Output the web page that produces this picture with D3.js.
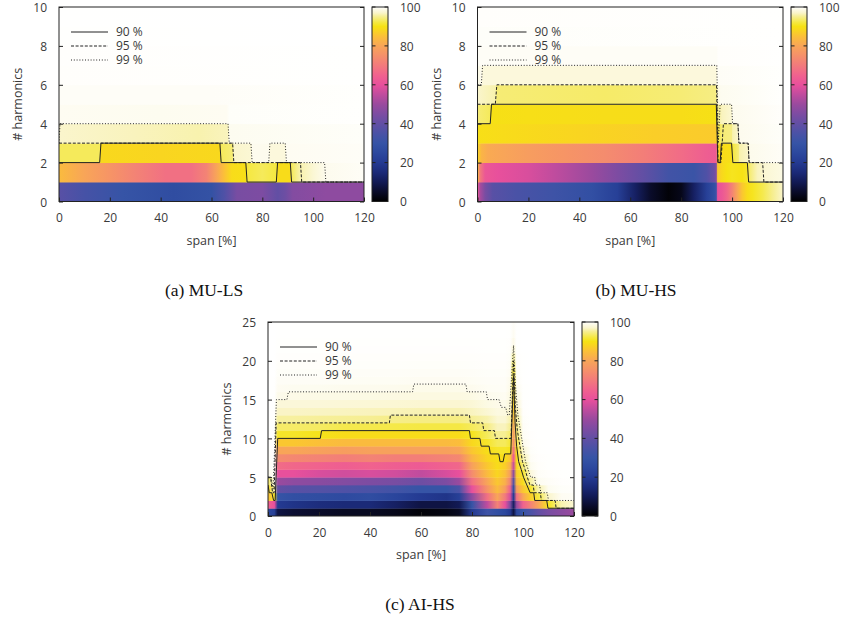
<!DOCTYPE html>
<html><head><meta charset="utf-8">
<script src="https://cdn.jsdelivr.net/npm/d3@7"></script>
<style>
body{margin:0;background:#fff;}
svg{display:block;font-family:"Open Sans",sans-serif;}
</style></head><body>
<svg id="chart" width="843" height="621"></svg>
<script>
// ---------- tick labels / texts ----------
const xTicks = [0, 20, 40, 60, 80, 100, 120];
const yTicksAB = [0, 2, 4, 6, 8, 10];
const yTicksC = [0, 5, 10, 15, 20, 25];
const cbTicks = [0, 20, 40, 60, 80, 100];
const legendLabels = ["90 %", "95 %", "99 %"];
const captions = ["(a) MU-LS", "(b) MU-HS", "(c) AI-HS"];
const xLabel = "span [%]";
const yLabel = "# harmonics";

// ---------- colour map (value -> colour) ----------
const colorValues = [0, 5, 10, 15, 20, 25, 30, 35, 40, 45, 50, 55, 60, 65, 70, 75, 80, 85, 88, 90, 92, 95, 97, 99, 100];
const colorHexes = ["#000000","#0a0c2a","#121a55","#1b2a78","#243a92","#2c489e","#3654a6","#4a52a6","#624fa4","#7d4ca2",
  "#9a4a9e","#c04c9e","#e8509c","#f0628e","#f27a7c","#f5906a","#f8a558","#fbc038","#f9d520","#f6e214",
  "#f5e840","#f6ee90","#faf5cc","#fdfbec","#ffffff"];

// ---------- panel (a) MU-LS : rows of [span, cumulative %] ----------
const heatA = [
  [[0,38],[10,34],[25,30],[45,27],[60,29],[65,36],[70,44],[80,45],[86,40],[89,42],[92,46],[105,48],[120,48]],
  [[0,84],[10,80],[20,76],[30,72],[42,68],[52,68],[58,72],[62,80],[65,85],[68,89],[73.5,89.5],[74,92],[80,93],[85.5,92],[86,89],[91,89],[91.5,93],[95,96],[100,97.5],[105,99.1],[120,99.5]],
  [[0,93],[16,93],[16.5,88.5],[40,88],[63.3,88.5],[63.8,93],[68.3,94],[68.8,97],[75.5,97.5],[76,99.1],[82.5,99.1],[83,98],[89,98],[89.5,99.3],[120,99.6]],
  [[0,97],[30,96.5],[55,96],[66.5,96.5],[67,99.2],[120,99.7]],
  [[0,99.3],[40,99.2],[66,99.3],[67,99.7],[120,99.9]],
  [[0,99.6],[60,99.6],[120,99.9]],
  [[0,99.8],[120,99.95]],
  [[0,99.85],[120,99.97]],
  [[0,99.9],[120,99.98]],
  [[0,99.95],[120,99.99]]
];
const c90A = [[0,2],[16,2],[16.5,3],[63.3,3],[63.8,2],[73.5,2],[74,1],[85.5,1],[86,2],[91,2],[91.5,1],[120,1]];
const c95A = [[0,3],[68.3,3],[68.8,2],[95,2],[95.5,1],[120,1]];
const c99A = [[0,3],[0.4,4],[66.5,4],[67,3],[75.5,3],[76,2],[82.5,2],[83,3],[89,3],[89.5,2],[104.5,2],[105,1],[120,1]];

// ---------- panel (b) MU-HS ----------
const heatB = [
  [[0,62],[1,52],[3,44],[6,38],[15,35],[30,32],[45,28],[55,22],[62,12],[68,5],[75,1],[80,3],[85,12],[90,22],[93,28],[93.8,32],[94.3,60],[96,62],[98,66],[100,72],[102,80],[104,86],[106,89],[108,90.5],[112,92.5],[116,95],[120,97]],
  [[0,85],[1,70],[3,62],[8,60],[20,58],[30,55],[45,50],[55,45],[65,40],[75,33],[85,31],[90,36],[93,42],[93.8,46],[94.3,86],[96,88.5],[98,90],[100,90.5],[104,90],[106,91],[107,94],[110,96.5],[113,97.5],[120,98.5]],
  [[0,88],[1.5,83],[4,81],[10,80],[20,78],[35,76],[50,74],[65,71],[80,67],[90,64],[93.8,63],[94.3,87],[96,89],[99.8,89.5],[100.3,92],[102.5,94],[103,96],[106.5,97],[107,99],[120,99.6]],
  [[0,89.5],[10,89],[40,88],[70,87],[93.8,86.5],[94.3,92],[96,94],[99.8,94.5],[100.2,96],[102.3,97],[102.7,99.1],[120,99.7]],
  [[0,94],[5,93],[5.5,89.7],[20,89.5],[50,89.2],[80,89.3],[93.8,89.7],[94.3,95],[96,96.5],[99.8,97.5],[100.2,99.1],[120,99.8]],
  [[0,97],[7,96],[7.6,94],[50,93.5],[80,94],[93.8,94.5],[94.3,98],[95.5,99.2],[120,99.9]],
  [[0,98.5],[1.5,99.1],[2,98],[50,98],[93.8,98],[94.3,99.5],[120,99.9]],
  [[0,99.5],[94,99.5],[94.5,99.8],[120,99.95]],
  [[0,99.7],[120,99.96]],
  [[0,99.8],[120,99.97]]
];
const c90B = [[0,4],[5,4],[5.5,5],[93.8,5],[94.4,2],[95.3,2],[95.8,3],[99.8,3],[100.3,2],[106,2],[106.5,1],[120,1]];
const c95B = [[0,5],[7,5],[7.6,6],[93.9,6],[94.5,2],[95.6,2],[96.6,4],[102.3,4],[102.7,3],[106.3,3],[106.7,2],[112,2],[112.5,1],[120,1]];
const c99B = [[0,6],[1.5,6],[2,7],[94,7],[94.6,3],[95.3,5],[99.8,5],[100.2,4],[102.3,4],[102.7,3],[106.3,3],[106.7,2],[120,2]];

// ---------- panel (c) AI-HS : columns of cumulative % per harmonic row ----------
const spanC = [0, 2.5, 3.8, 10, 20, 30, 40, 50, 60, 70, 75, 80, 86, 90, 93, 95, 96.3, 97.5, 100, 103, 106, 110, 115, 120];
const heatC = [
  [25,65,85,89,93,99.1,99.5,99.7,99.8,99.85,99.9,99.9,99.92,99.93,99.94,99.95,99.96,99.97,99.97,99.98,99.98,99.99,99.99,100,100],
  [22,60,91,96,99.2,99.5,99.7,99.8,99.85,99.9,99.9,99.92,99.93,99.94,99.95,99.96,99.97,99.97,99.98,99.98,99.99,99.99,100,100,100],
  [8,20,30,40,50,60,67,74,80,86,91,93.5,95.5,96.8,97.8,99.0,99.3,99.5,99.65,99.75,99.82,99.88,99.92,99.95,99.97],
  [6,18,28,38,48,60,66,73,80,86,91,93.5,95.5,96.8,97.8,98.7,99.2,99.5,99.65,99.75,99.82,99.88,99.92,99.95,99.97],
  [5,16,27,37,47,58,65,72,79,85,90.3,93.3,95.3,96.7,97.8,98.6,99.2,99.5,99.65,99.75,99.82,99.88,99.92,99.95,99.97],
  [4,15,26,36,46,57,64,71,78,84,89,92.5,95.2,96.6,97.7,98.6,99.1,99.45,99.6,99.72,99.8,99.87,99.92,99.95,99.97],
  [4,15,27,35,45,58,65,72,79,84,89,92.5,95.1,96.5,97.6,98.5,99.1,99.4,99.6,99.72,99.8,99.87,99.92,99.95,99.97],
  [3,12,24,33,44,57,64,71,79,84,89,92.3,94.7,96.4,97.5,98.4,99.05,99.4,99.6,99.72,99.8,99.87,99.92,99.95,99.97],
  [1,8,20,30,42,55,63,71,79,84,89,92.2,94.5,96.2,97.4,98.3,98.9,99.3,99.55,99.7,99.8,99.87,99.92,99.95,99.97],
  [2,8,18,30,45,58,65,72,79,84,89,92.2,94.5,96.2,97.4,98.3,98.9,99.3,99.55,99.7,99.8,99.87,99.92,99.95,99.97],
  [4,10,22,35,50,60,66,73,80,84.5,89,92.2,94.5,96.2,97.4,98.3,98.9,99.3,99.55,99.7,99.8,99.87,99.92,99.95,99.97],
  [20,30,48,60,68,74,79,83,86,88.5,90.5,93,95.2,96.6,97.6,98.5,99.1,99.4,99.6,99.72,99.8,99.87,99.92,99.95,99.97],
  [32,55,68,76,80,84,86,88,89.3,91,93,94.5,96,97.5,98.5,99.1,99.4,99.6,99.7,99.78,99.84,99.88,99.92,99.95,99.97],
  [28,72,80,84,86,88,89,89.6,91,93,95.2,96.5,97.5,98.3,98.8,99.2,99.45,99.6,99.7,99.78,99.84,99.88,99.92,99.95,99.97],
  [25,60,70,78,82,85,87,89,91,93,95.1,96.5,97.5,98.2,98.9,99.3,99.5,99.6,99.7,99.78,99.84,99.88,99.92,99.95,99.97],
  [20,45,58,65,72,78,82,86,90.2,91.5,93.5,95,96,97,97.8,98.3,98.7,99,99.3,99.5,99.65,99.75,99.85,99.9,99.95],
  [8,12,20,28,38,48,56,62,68,74,78,81,84,86,87.5,88.5,89.3,89.7,91,93,95.5,97.5,98.8,99.3,99.6],
  [25,50,68,78,84,87,88.5,89.5,90.5,92,93.5,94.5,95.5,96.5,97.5,98.5,99.1,99.5,99.7,99.8,99.85,99.9,99.93,99.95,99.97],
  [30,65,80,86,89,91,94,96,97.5,99,99.4,99.6,99.7,99.8,99.85,99.9,99.92,99.94,99.95,99.96,99.97,99.98,99.98,99.99,99.99],
  [35,72,87,91,95.5,98,99.2,99.5,99.7,99.8,99.85,99.9,99.92,99.94,99.95,99.96,99.97,99.98,99.98,99.99,99.99,99.99,100,100,100],
  [40,80,92,96,99.2,99.6,99.75,99.85,99.9,99.92,99.94,99.95,99.96,99.97,99.98,99.98,99.99,99.99,99.99,100,100,100,100,100,100],
  [44,90.5,97,99.2,99.6,99.8,99.88,99.92,99.94,99.95,99.96,99.97,99.98,99.98,99.99,99.99,99.99,100,100,100,100,100,100,100,100],
  [47,96,99.3,99.7,99.85,99.9,99.93,99.95,99.96,99.97,99.98,99.98,99.99,99.99,99.99,100,100,100,100,100,100,100,100,100,100],
  [50,97.5,99.5,99.8,99.9,99.93,99.95,99.96,99.97,99.98,99.98,99.99,99.99,99.99,100,100,100,100,100,100,100,100,100,100,100]
];
const c90C = [[0,4],[0.5,3],[1.5,3],[2.2,2],[2.8,2],[3.8,10],[20.5,10],[21,11],[79,11],[79.4,10],[83.1,10],[83.6,9],[86.7,9],[87.2,8],[90.5,8],[91,7],[92.2,7],[92.8,8],[95.2,8],[96.3,18],[96.9,12],[97.5,9],[98.3,7],[99.3,6],[100.2,5],[101.5,4],[102.8,3],[104.2,3],[104.6,2],[109.3,2],[109.8,1],[120,1]];
const c95C = [[0,5],[1,5],[1.8,3],[2.4,3],[3.2,12],[47.6,12],[48,13],[79,13],[79.4,12],[84.2,12],[84.6,11],[88.8,11],[89.2,10],[95.3,10],[96.3,20],[97,14],[97.8,11],[98.8,9],[99.8,7],[100.8,6],[101.7,5],[102.7,4],[104,4],[104.4,3],[106.8,3],[107.2,2],[112.6,2],[113,1],[120,1]];
const c99C = [[0,5],[1.2,5],[2,3.5],[3.3,15],[7.4,15],[8,16],[56.7,16],[57.2,17],[77.6,17],[78.1,16],[85.6,16],[86.1,15],[90.6,15],[91.5,14],[93.2,14],[94,13],[94.6,13],[96.3,22],[97,17],[98,13],[99,11],[100,9],[101,7],[102,6],[103,5],[104.6,5],[105,4],[106.5,4],[107,3],[109.5,3],[110,2],[120,2]];

// ---------- drawing ----------
const svg = d3.select("#chart");
const defs = svg.append("defs");
const color = d3.scaleLinear().domain(colorValues).range(colorHexes).interpolate(d3.interpolateRgb).clamp(true);
const INK = "#222";
const TXT = "#3a3a3a";

// convert column profiles of (c) to row stop lists
const rowsC = d3.range(heatC[0].length).map(k => spanC.map((s, j) => [s, heatC[j][k]]));

const panels = [
  {id:"a", x:59, y:7, w:305, h:194.5, cbx:372, ymax:10, yTicks:yTicksAB, rows:heatA, c:[c90A,c95A,c99A], cap:captions[0], capX:204, capY:296},
  {id:"b", x:477.5, y:7, w:305.5, h:194.5, cbx:791, ymax:10, yTicks:yTicksAB, rows:heatB, c:[c90B,c95B,c99B], cap:captions[1], capX:636, capY:296},
  {id:"c", x:268, y:322, w:306, h:194, cbx:582, ymax:25, yTicks:yTicksC, rows:rowsC, c:[c90C,c95C,c99C], cap:captions[2], capX:420, capY:610}
];
const dashes = [null, "3,1.6", "1,1.8"];

panels.forEach(p => {
  const W = p.w, H = p.h;
  const g = svg.append("g").attr("transform", `translate(${p.x},${p.y})`);
  const x = d3.scaleLinear().domain([0, 120]).range([0, W]);
  const y = d3.scaleLinear().domain([0, p.ymax]).range([H, 0]);

  defs.append("clipPath").attr("id", "clip" + p.id).append("rect").attr("width", W).attr("height", H);

  // heat rows
  p.rows.forEach((stops, k) => {
    const id = `grad${p.id}${k}`;
    const gr = defs.append("linearGradient").attr("id", id).attr("gradientUnits", "userSpaceOnUse")
      .attr("x1", 0).attr("x2", W).attr("y1", 0).attr("y2", 0);
    stops.forEach(([s, v]) => gr.append("stop").attr("offset", x(s) / W).attr("stop-color", color(v)));
    g.append("rect").attr("x", 0).attr("width", W)
      .attr("y", y(k + 1)).attr("height", y(k) - y(k + 1) + (k > 0 ? 0.4 : 0))
      .attr("fill", `url(#${id})`);
  });

  // contour lines
  const line = d3.line().x(d => x(d[0])).y(d => y(d[1]));
  const cg = g.append("g").attr("clip-path", `url(#clip${p.id})`);
  p.c.forEach((c, i) => {
    cg.append("path").attr("d", line(c)).attr("fill", "none").attr("stroke", INK)
      .attr("stroke-width", 1).attr("stroke-dasharray", dashes[i]);
  });

  // axes
  const ax = g.append("g").attr("transform", `translate(0,${H})`)
    .call(d3.axisBottom(x).tickValues(xTicks).tickSizeInner(-4).tickSizeOuter(0).tickPadding(12));
  const ay = g.append("g")
    .call(d3.axisLeft(y).tickValues(p.yTicks).tickSizeInner(-4).tickSizeOuter(0).tickPadding(12));
  const ar = g.append("g").attr("transform", `translate(${W},0)`)
    .call(d3.axisRight(y).tickValues(p.yTicks).tickSizeInner(-4).tickSizeOuter(0).tickFormat(""));
  [ax, ay, ar].forEach(a => {
    a.select(".domain").remove();
    a.selectAll("line").attr("stroke", INK);
    a.selectAll("text").attr("fill", TXT).style("font-size", "12px").style("font-family", '"Open Sans",sans-serif');
  });
  ay.selectAll("text").attr("dy", "0.4em");
  g.append("rect").attr("width", W).attr("height", H).attr("fill", "none").attr("stroke", INK).attr("stroke-width", 1);

  // axis titles
  g.append("text").attr("x", W / 2).attr("y", H + 43).attr("text-anchor", "middle")
    .attr("fill", TXT).style("font-size", "12.5px").text(xLabel);
  g.append("text").attr("transform", `translate(-37,${H / 2}) rotate(-90)`).attr("text-anchor", "middle")
    .attr("fill", TXT).style("font-size", "12.5px").text(yLabel);

  // legend
  legendLabels.forEach((lab, i) => {
    const ly = 25 + i * 14;
    g.append("line").attr("x1", 12).attr("x2", 49).attr("y1", ly).attr("y2", ly)
      .attr("stroke", INK).attr("stroke-width", 1).attr("stroke-dasharray", dashes[i]);
    g.append("text").attr("x", 57).attr("y", ly + 4.3).attr("fill", TXT).style("font-size", "12px").text(lab);
  });

  // colour bar
  const cbw = 16;
  const cb = svg.append("g").attr("transform", `translate(${p.cbx},${p.y})`);
  const cy = d3.scaleLinear().domain([0, 100]).range([H, 0]);
  const cid = "cb" + p.id;
  const cgr = defs.append("linearGradient").attr("id", cid).attr("gradientUnits", "userSpaceOnUse")
    .attr("x1", 0).attr("x2", 0).attr("y1", H).attr("y2", 0);
  colorValues.forEach((v, i) => cgr.append("stop").attr("offset", v / 100).attr("stop-color", colorHexes[i]));
  cb.append("rect").attr("width", cbw).attr("height", H).attr("fill", `url(#${cid})`);
  cbTicks.forEach(t => {
    cb.append("line").attr("x1", 0).attr("x2", 3.5).attr("y1", cy(t)).attr("y2", cy(t)).attr("stroke", INK);
    cb.append("line").attr("x1", cbw - 3.5).attr("x2", cbw).attr("y1", cy(t)).attr("y2", cy(t)).attr("stroke", INK);
    cb.append("text").attr("x", cbw + 12).attr("y", cy(t)).attr("dy", "0.4em").attr("fill", TXT)
      .style("font-size", "12px").text(t);
  });
  cb.append("rect").attr("width", cbw).attr("height", H).attr("fill", "none").attr("stroke", INK).attr("stroke-width", 1);

  // caption
  svg.append("text").attr("x", p.capX).attr("y", p.capY).attr("text-anchor", "middle")
    .attr("fill", "#111").style("font-family", '"Liberation Serif",serif').style("font-size", "17.5px").text(p.cap);
});
</script>
</body></html>
